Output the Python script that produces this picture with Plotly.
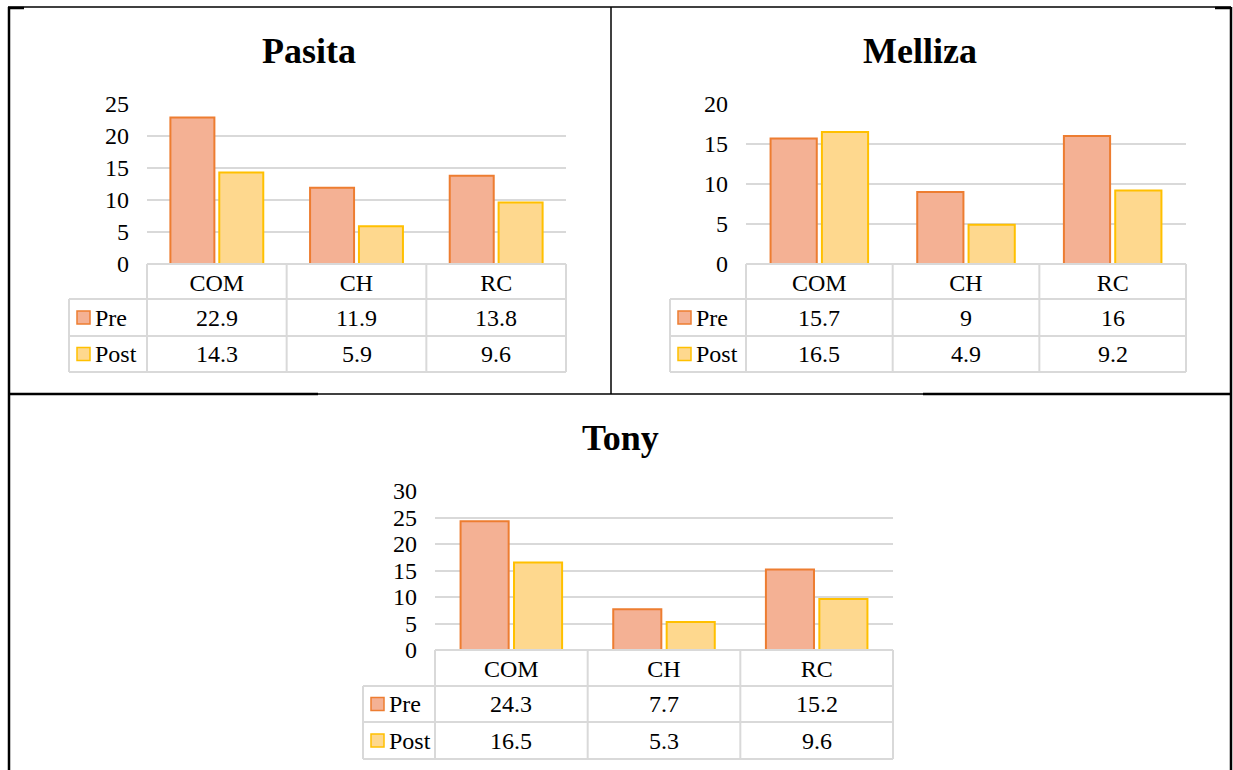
import plotly.graph_objects as go

# ---- data ----
categories = ["COM", "CH", "RC"]
series_names = ["Pre", "Post"]

pasita_pre = [22.9, 11.9, 13.8]
pasita_post = [14.3, 5.9, 9.6]

melliza_pre = [15.7, 9, 16]
melliza_post = [16.5, 4.9, 9.2]

tony_pre = [24.3, 7.7, 15.2]
tony_post = [16.5, 5.3, 9.6]

# ---- page geometry (pixels) ----
W, H = 1233, 770
FONT = "Liberation Serif, Times New Roman, serif"
PRE_FILL, PRE_LINE = "#f4b194", "#ed7d31"
POST_FILL, POST_LINE = "#fed88e", "#ffc000"
GRID = "#d9d9d9"
TXT = 24


def px(x):
    return x / W


def py(y):
    return 1 - y / H


panels = [
    dict(title="Pasita", pre=pasita_pre, post=pasita_post, ymax=25,
         x0=147, x1=566, ybase=264, ytop=104, legx=69,
         rows=(264, 299, 336, 372), tx=309, ty=51),
    dict(title="Melliza", pre=melliza_pre, post=melliza_post, ymax=20,
         x0=746, x1=1186, ybase=264, ytop=104, legx=670,
         rows=(264, 299, 336, 372), tx=920, ty=51),
    dict(title="Tony", pre=tony_pre, post=tony_post, ymax=30,
         x0=435, x1=893, ybase=650, ytop=491, legx=363,
         rows=(650, 686, 722, 759), tx=620, ty=438),
]

fig = go.Figure()
shapes = []
annotations = []

for i, p in enumerate(panels, start=1):
    xa = "x" if i == 1 else f"x{i}"
    ya = "y" if i == 1 else f"y{i}"
    xkey = "xaxis" if i == 1 else f"xaxis{i}"
    ykey = "yaxis" if i == 1 else f"yaxis{i}"

    fig.add_trace(go.Bar(
        x=categories, y=p["pre"], name="Pre", xaxis=xa, yaxis=ya,
        marker=dict(color=PRE_FILL, line=dict(color=PRE_LINE, width=2)),
        showlegend=False, hoverinfo="x+y+name"))
    fig.add_trace(go.Bar(
        x=categories, y=p["post"], name="Post", xaxis=xa, yaxis=ya,
        marker=dict(color=POST_FILL, line=dict(color=POST_LINE, width=2)),
        showlegend=False, hoverinfo="x+y+name"))

    fig.update_layout({
        xkey: dict(domain=[px(p["x0"]), px(p["x1"])], anchor=ya,
                   type="category", range=[-0.5, 2.5], showgrid=False,
                   zeroline=False, showline=False, ticks="",
                   tickfont=dict(family=FONT, size=TXT, color="#000"),
                   ticklabelstandoff=2, automargin=False, fixedrange=True),
        ykey: dict(domain=[py(p["ybase"]), py(p["ytop"])], anchor=xa,
                   range=[0, p["ymax"]], dtick=5, showgrid=True,
                   gridcolor=GRID, gridwidth=2, zeroline=False,
                   showline=False, ticks="",
                   tickfont=dict(family=FONT, size=TXT, color="#000"),
                   ticklabelstandoff=17, automargin=False, fixedrange=True),
    })

    # chart title
    annotations.append(dict(
        text=f"<b>{p['title']}</b>", x=px(p["tx"]), y=py(p["ty"]),
        xref="paper", yref="paper", xanchor="center", yanchor="middle",
        showarrow=False, font=dict(family=FONT, size=36, color="#000")))

    # data table grid
    r0, r1, r2, r3 = p["rows"]
    line = dict(color=GRID, width=2)
    cw = (p["x1"] - p["x0"]) / 3
    shapes.append(dict(type="line", xref="paper", yref="paper",
                       x0=px(p["x0"]), x1=px(p["x1"]), y0=py(r0), y1=py(r0), line=line))
    for r in (r1, r2, r3):
        shapes.append(dict(type="line", xref="paper", yref="paper",
                           x0=px(p["legx"]), x1=px(p["x1"]), y0=py(r), y1=py(r), line=line))
    for k in range(4):
        xv = p["x0"] + k * cw
        shapes.append(dict(type="line", xref="paper", yref="paper",
                           x0=px(xv), x1=px(xv), y0=py(r0), y1=py(r3), line=line))
    shapes.append(dict(type="line", xref="paper", yref="paper",
                       x0=px(p["legx"]), x1=px(p["legx"]), y0=py(r1), y1=py(r3), line=line))

    # series rows: legend key, name and values
    rows = [(series_names[0], p["pre"], PRE_FILL, PRE_LINE, (r1 + r2) / 2),
            (series_names[1], p["post"], POST_FILL, POST_LINE, (r2 + r3) / 2)]
    for name, vals, fill, edge, yc in rows:
        kx = p["legx"] + 8
        shapes.append(dict(type="rect", xref="paper", yref="paper",
                           x0=px(kx), x1=px(kx + 13), y0=py(yc - 6.5), y1=py(yc + 6.5),
                           fillcolor=fill, line=dict(color=edge, width=1.5)))
        annotations.append(dict(
            text=name, x=px(kx + 16), y=py(yc), xref="paper", yref="paper",
            xanchor="left", yanchor="middle", showarrow=False,
            font=dict(family=FONT, size=TXT, color="#000")))
        for cat, v in zip(categories, vals):
            annotations.append(dict(
                text=f"{v:g}", x=cat, y=py(yc), xref=xa, yref="paper",
                xanchor="center", yanchor="middle", showarrow=False,
                font=dict(family=FONT, size=TXT, color="#000")))

# outer page table borders
black = "#000000"
border_lines = [
    (8, 7, 1231, 7, 1.5),
    (8, 8, 24, 8, 2.5),
    (1215, 8, 1231, 8, 2.5),
    (9, 7, 9, 770, 2.5),
    (1231, 7, 1231, 770, 2.5),
    (611, 7, 611, 394, 1.5),
    (8, 394, 318, 394, 2.5),
    (318, 394, 923, 394, 1.5),
    (923, 394, 1231, 394, 2.5),
]
for xa0, ya0, xa1, ya1, w in border_lines:
    shapes.append(dict(type="line", xref="paper", yref="paper",
                       x0=px(xa0), x1=px(xa1), y0=py(ya0), y1=py(ya1),
                       line=dict(color=black, width=w)))

fig.update_layout(
    width=W, height=H, margin=dict(l=0, r=0, t=0, b=0, autoexpand=False),
    paper_bgcolor="white", plot_bgcolor="white",
    barmode="group", bargap=0.3, bargroupgap=0.1,
    shapes=shapes, annotations=annotations,
    font=dict(family=FONT, color="#000"),
)

fig.write_html("out.html", config=dict(displayModeBar=False),
               post_script="document.body.style.margin='0';")
